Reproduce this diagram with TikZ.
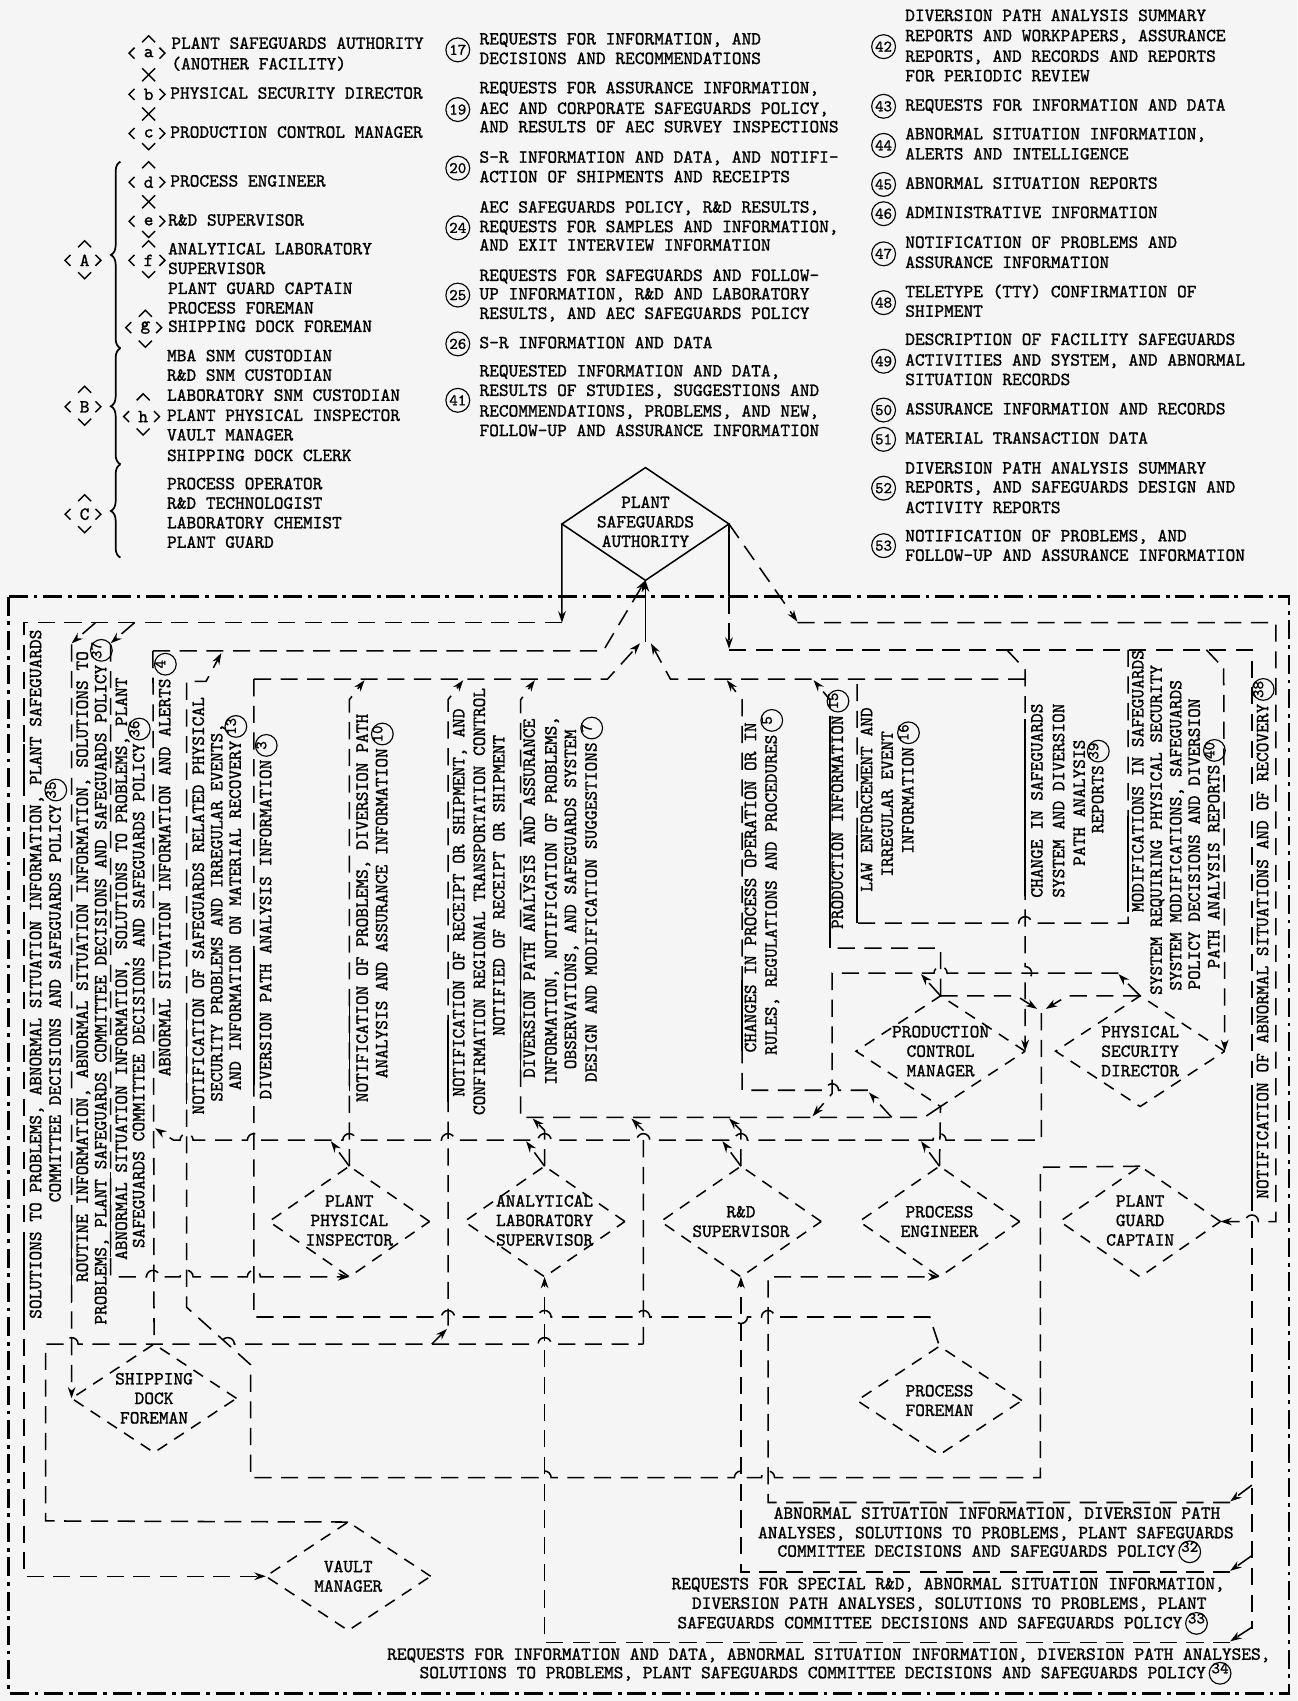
\documentclass[tikz,border=0pt]{standalone}
\usepackage{fontspec}
\newfontfamily\tw[FakeBold=1.2]{lmmono10-regular.otf}
\usetikzlibrary{arrows.meta,shapes.geometric,decorations.pathreplacing}

\newcommand\cn[1]{\hspace{1.5pt}\tikz[baseline={(0pt,-2.6pt)},x=1cm,y=1cm]{\draw[line width=0.6pt,solid] (0,0) circle[radius=0.2cm]; \node[inner sep=0pt,font=\tw\fontsize{8.5}{8.5}\selectfont] (cnn) at (0,0) {#1};}}
\newcommand\JmpR[2]{-- (#1-6,#2) arc[start angle=180,end angle=0,radius=0.12cm]}
\newcommand\JmpL[2]{-- (#1+6,#2) arc[start angle=0,end angle=180,radius=0.12cm]}
\newcommand\JmpDip[2]{-- (#1-6,#2) arc[start angle=180,end angle=360,radius=0.12cm]}
\newcommand\JmpD[2]{-- (#1,#2-6) arc[start angle=90,end angle=-90,radius=0.12cm]}
\newcommand\Lhat[2]{\draw[lg] (#1-6,#2+3) -- (#1,#2-3) -- (#1+6,#2+3);}
\newcommand\Lvee[2]{\draw[lg] (#1-6,#2-3) -- (#1,#2+3) -- (#1+6,#2-3);}
\newcommand\Lx[2]{\draw[lg] (#1-6,#2-6) -- (#1+6,#2+6) (#1-6,#2+6) -- (#1+6,#2-6);}
\newcommand\Lkey[4]{\draw[lg] (#1-13,#2-5) -- (#1-18,#2) -- (#1-13,#2+5); \draw[lg] (#1+10,#2-5) -- (#1+15,#2) -- (#1+10,#2+5); \node[txt] (#4) at (#1,#2) {#3};}

\begin{document}
\begin{tikzpicture}[x=0.02cm,y=-0.02cm,
  txt/.style={font=\tw\fontsize{9.7}{10.24}\selectfont,inner sep=0pt,outer sep=0pt},
  vt/.style={txt,rotate=90,anchor=base},
  ht/.style={txt,anchor=base west},
  hc/.style={txt,anchor=base},
  dt/.style={txt,align=center},
  ln/.style={line width=0.8pt,dash pattern=on 9pt off 5pt},
  sl/.style={line width=0.8pt},
  lg/.style={line width=0.75pt},
  arr/.style={-{Stealth[length=6pt,width=4pt]}},
  dia/.style={diamond,draw,line width=0.8pt,dash pattern=on 6pt off 4.5pt,inner sep=0pt,outer sep=0pt},
  diaS/.style={dia,minimum width=2.96cm,minimum height=2.04cm},
  diaU/.style={dia,minimum width=3.12cm,minimum height=2.04cm},
  diaB/.style={dia,minimum width=3.04cm,minimum height=2.0cm},
  circ/.style={circle,draw,line width=0.6pt,minimum size=0.44cm,inner sep=0pt,font=\tw\fontsize{8.5}{8.5}\selectfont},
  bd/.style={line width=1.3pt,dash pattern=on 10pt off 3pt on 2pt off 3pt},
]
\useasboundingbox (0,0) rectangle (1196,1568);
\fill[black!4] (0,0) rectangle (1196,1568);

% ---------------- legend left ----------------
\node[ht] (l1) at (158,45) {PLANT SAFEGUARDS AUTHORITY};
\node[ht] (l2) at (158,64) {(ANOTHER FACILITY)};
\node[ht] (l3) at (157,91) {PHYSICAL SECURITY DIRECTOR};
\node[ht] (l4) at (157,127) {PRODUCTION CONTROL MANAGER};
\node[ht] (l5) at (157,172) {PROCESS ENGINEER};
\node[ht] (l6) at (155,208) {R\&D SUPERVISOR};
\node[ht] (l7) at (155,234.5) {ANALYTICAL LABORATORY};
\node[ht] (l8) at (155,252.6) {SUPERVISOR};
\node[ht] (l9) at (155,271) {PLANT GUARD CAPTAIN};
\node[ht] (l10) at (155,289) {PROCESS FOREMAN};
\node[ht] (l11) at (155,306) {SHIPPING DOCK FOREMAN};
\node[ht] (l12) at (154,333) {MBA SNM CUSTODIAN};
\node[ht] (l13) at (154,351) {R\&D SNM CUSTODIAN};
\node[ht] (l14) at (154,369.5) {LABORATORY SNM CUSTODIAN};
\node[ht] (l15) at (154,388) {PLANT PHYSICAL INSPECTOR};
\node[ht] (l16) at (154,406) {VAULT MANAGER};
\node[ht] (l17) at (154,425) {SHIPPING DOCK CLERK};
\node[ht] (l18) at (154,451) {PROCESS OPERATOR};
\node[ht] (l19) at (154,469) {R\&D TECHNOLOGIST};
\node[ht] (l20) at (154,487) {LABORATORY CHEMIST};
\node[ht] (l21) at (154,505) {PLANT GUARD};

\Lhat{137}{36}
\Lkey{137}{49}{a}{ka}
\Lx{137}{69}
\Lkey{137}{87}{b}{kb}
\Lx{137}{105}
\Lkey{137}{123}{c}{kc}
\Lvee{137}{135}
\Lhat{137}{152}
\Lkey{137}{168}{d}{kd}
\Lx{137}{186}
\Lkey{137}{204}{e}{ke}
\Lvee{137}{216}
\Lhat{137}{225}
\Lkey{137}{240}{f}{kf}
\Lvee{137}{253}
\Lhat{134}{289}
\Lkey{134}{302}{g}{kg}
\Lvee{134}{317}
\Lhat{132}{366}
\Lkey{132}{384}{h}{kh}
\Lvee{132}{398}
\Lhat{78}{225}
\Lkey{78}{240}{A}{kA}
\Lvee{78}{254}
\Lhat{78}{359}
\Lkey{78}{375}{B}{kB}
\Lvee{78}{389}
\Lhat{78}{459}
\Lkey{78}{474}{C}{kC}
\Lvee{78}{488}
\draw[lg,line width=0.9pt,decorate,decoration={brace,amplitude=5pt}] (111,321) -- (111,149);
\draw[lg,line width=0.9pt,decorate,decoration={brace,amplitude=5pt}] (111,428) -- (111,321);
\draw[lg,line width=0.9pt,decorate,decoration={brace,amplitude=5pt}] (111,514) -- (111,428);

% ---------------- legend middle ----------------
\node[circ] (c17) at (422,46) {17};
\node[ht] (m1) at (442,41) {REQUESTS FOR INFORMATION, AND};
\node[ht] (m2) at (442,59) {DECISIONS AND RECOMMENDATIONS};
\node[circ] (c19) at (422,101) {19};
\node[ht] (m3) at (442,86) {REQUESTS FOR ASSURANCE INFORMATION,};
\node[ht] (m4) at (442,105) {AEC AND CORPORATE SAFEGUARDS POLICY,};
\node[ht] (m5) at (442,122) {AND RESULTS OF AEC SURVEY INSPECTIONS};
\node[circ] (c20) at (422,155) {20};
\node[ht] (m6) at (442,150) {S-R INFORMATION AND DATA, AND NOTIFI-};
\node[ht] (m7) at (442,168) {ACTION OF SHIPMENTS AND RECEIPTS};
\node[circ] (c24) at (422,210) {24};
\node[ht] (m8) at (442,196) {AEC SAFEGUARDS POLICY, R\&D RESULTS,};
\node[ht] (m9) at (442,214) {REQUESTS FOR SAMPLES AND INFORMATION,};
\node[ht] (m10) at (442,231) {AND EXIT INTERVIEW INFORMATION};
\node[circ] (c25) at (422,272) {25};
\node[ht] (m11) at (442,259) {REQUESTS FOR SAFEGUARDS AND FOLLOW-};
\node[ht] (m12) at (442,276) {UP INFORMATION, R\&D AND LABORATORY};
\node[ht] (m13) at (442,294) {RESULTS, AND AEC SAFEGUARDS POLICY};
\node[circ] (c26) at (422,317) {26};
\node[ht] (m14) at (442,321) {S-R INFORMATION AND DATA};
\node[circ] (c41) at (422,369) {41};
\node[ht] (m15) at (442,347) {REQUESTED INFORMATION AND DATA,};
\node[ht] (m16) at (442,365) {RESULTS OF STUDIES, SUGGESTIONS AND};
\node[ht] (m17) at (442,384) {RECOMMENDATIONS, PROBLEMS, AND NEW,};
\node[ht] (m18) at (442,402) {FOLLOW-UP AND ASSURANCE INFORMATION};

% ---------------- legend right ----------------
\node[circ] (c42) at (814.5,43) {42};
\node[ht] (r1) at (834.5,19.4) {DIVERSION PATH ANALYSIS SUMMARY};
\node[ht] (r2) at (834.5,38) {REPORTS AND WORKPAPERS, ASSURANCE};
\node[ht] (r3) at (834.5,57) {REPORTS, AND RECORDS AND REPORTS};
\node[ht] (r4) at (834.5,75) {FOR PERIODIC REVIEW};
\node[circ] (c43) at (814.5,98) {43};
\node[ht] (r5) at (834.5,102) {REQUESTS FOR INFORMATION AND DATA};
\node[circ] (c44) at (814.5,134) {44};
\node[ht] (r6) at (834.5,128.5) {ABNORMAL SITUATION INFORMATION,};
\node[ht] (r7) at (834.5,147) {ALERTS AND INTELLIGENCE};
\node[circ] (c45) at (814.5,170) {45};
\node[ht] (r8) at (834.5,174) {ABNORMAL SITUATION REPORTS};
\node[circ] (c46) at (814.5,197) {46};
\node[ht] (r9) at (834.5,201) {ADMINISTRATIVE INFORMATION};
\node[circ] (c47) at (814.5,234) {47};
\node[ht] (r10) at (834.5,228.5) {NOTIFICATION OF PROBLEMS AND};
\node[ht] (r11) at (834.5,247) {ASSURANCE INFORMATION};
\node[circ] (c48) at (814.5,279) {48};
\node[ht] (r12) at (834.5,274) {TELETYPE (TTY) CONFIRMATION OF};
\node[ht] (r13) at (834.5,292) {SHIPMENT};
\node[circ] (c49) at (814.5,333) {49};
\node[ht] (r14) at (834.5,318) {DESCRIPTION OF FACILITY SAFEGUARDS};
\node[ht] (r15) at (834.5,337) {ACTIVITIES AND SYSTEM, AND ABNORMAL};
\node[ht] (r16) at (834.5,355) {SITUATION RECORDS};
\node[circ] (c50) at (814.5,378) {50};
\node[ht] (r17) at (834.5,382) {ASSURANCE INFORMATION AND RECORDS};
\node[circ] (c51) at (814.5,405) {51};
\node[ht] (r18) at (834.5,409) {MATERIAL TRANSACTION DATA};
\node[circ] (c52) at (814.5,450) {52};
\node[ht] (r19) at (834.5,436.5) {DIVERSION PATH ANALYSIS SUMMARY};
\node[ht] (r20) at (834.5,454) {REPORTS, AND SAFEGUARDS DESIGN AND};
\node[ht] (r21) at (834.5,473) {ACTIVITY REPORTS};
\node[circ] (c53) at (814.5,503) {53};
\node[ht] (r22) at (834.5,499) {NOTIFICATION OF PROBLEMS, AND};
\node[ht] (r23) at (834.5,517) {FOLLOW-UP AND ASSURANCE INFORMATION};

% ---------------- diamonds ----------------
\node[dia,solid,minimum width=3.08cm,minimum height=2.08cm] (PSA) at (595,483) {};
\node[dt] (PSAt) at (595,481) {PLANT\\SAFEGUARDS\\AUTHORITY};
\node[diaU] (PCM) at (867,969) {};
\node[dt] (PCMt) at (867,969) {PRODUCTION\\CONTROL\\MANAGER};
\node[diaU] (PSD) at (1051,969) {};
\node[dt] (PSDt) at (1051,969) {PHYSICAL\\SECURITY\\DIRECTOR};
\node[diaS] (PPI) at (322,1126) {};
\node[dt] (PPIt) at (322,1125) {PLANT\\PHYSICAL\\INSPECTOR};
\node[diaS] (ALS) at (502,1126) {};
\node[dt] (ALSt) at (502,1125) {ANALYTICAL\\LABORATORY\\SUPERVISOR};
\node[diaS] (RD) at (683,1126) {};
\node[dt] (RDt) at (683,1126) {R\&D\\SUPERVISOR};
\node[diaS] (PE) at (866,1126) {};
\node[dt] (PEt) at (866,1126) {PROCESS\\ENGINEER};
\node[diaS] (PGC) at (1051,1126) {};
\node[dt] (PGCt) at (1051,1125) {PLANT\\GUARD\\CAPTAIN};
\node[diaB] (SDF) at (142,1289) {};
\node[dt] (SDFt) at (142,1289) {SHIPPING\\DOCK\\FOREMAN};
\node[diaB] (PF) at (866,1291) {};
\node[dt] (PFt) at (866,1291) {PROCESS\\FOREMAN};
\node[diaB] (VM) at (321,1453) {};
\node[dt] (VMt) at (321,1453) {VAULT\\MANAGER};

% ---------------- border ----------------
\draw[bd] (8,550) rectangle (1188,1561);

% ---------------- connectors ----------------
\draw[sl,arr] (PSA.west) -- (518,574);
\draw[ln,arr] (518,574) -- (22,574) -- (22,1453) -- (VM.west);
\draw[sl] (PSA.east) -- (672,550);
\draw[ln,arr] (672,550) -- (672,598);
\draw[ln,arr] (PSA.east) -- (735,573);
\draw[ln,arr] (735,574) -- (1176,574) -- (1176,1126) \JmpL{1154}{1126} -- (PGC.east);
\draw[ln] (672,599) -- (1154,599) -- (1154,1502);
\draw[ln,arr] (1154,1369) -- (1134,1384);
\draw[ln,arr] (1134,1385) -- (708,1385) -- (708,1177) -- (PE.south);
\draw[ln,arr] (1154,1434) -- (1134,1448);
\draw[ln,arr] (1134,1449) -- (683,1449) -- (RD.south);
\draw[ln,arr] (1154,1500) -- (1134,1513);
\draw[ln,arr] (1134,1514) -- (502,1514) -- (ALS.south);

\draw[ln] (928,599) -- (945,617);
\draw[ln,arr] (945,617) \JmpD{945}{897} -- (PCM.east);
\draw[ln] (1112,599) -- (1128,616);
\draw[ln,arr] (1128,616) -- (PSD.east);
\draw[ln] (1040,599) -- (1040,851) \JmpL{945}{851} -- (790,851) -- (790,626);
\draw[ln,arr] (945,626) -- (618,626) -- (600,593);
\draw[sl,arr] (595,592) -- (PSA.south);
\draw[ln,arr] (234,626) -- (560,626) -- (590,593);
\draw[ln,arr] (141,600) -- (556,600) -- (PSA.south);

\draw[ln,arr] (PCM.north) -- (867,874) -- (765,874) -- (765,645) -- (750,627);
\draw[ln,arr] (PCM.north) -- (849,898);
\draw[ln,arr] (PSD.north) -- (1031,898);
\draw[ln,arr] (1031,897) \JmpL{867}{897} -- (767,897) -- (767,1008) -- (749,1029);
\draw[ln,arr] (PCM.north) -- (937,918) -- (956,930);
\draw[ln,arr] (PSD.north) -- (984,918) -- (964,930);
\draw[ln,arr] (960,934) -- (960,1051) \JmpL{866}{1051} \JmpL{683}{1051} \JmpL{593}{1051} \JmpL{502}{1051} \JmpL{413}{1051} \JmpL{322}{1051} \JmpL{234}{1051} \JmpL{172}{1051} -- (160,1051) -- (143,1040);

\draw[ln,arr] (822,1030) -- (801,1007);
\draw[ln,arr] (800,1005) \JmpL{767}{1005} -- (684,1005) -- (684,645) -- (670,627);
\draw[ln,arr] (PCM.south) -- (852,1030) -- (480,1030) -- (480,645) -- (493,627);
\draw[ln] (PE.north) -- (PCM.south);
\draw[ln,arr] (PE.north) -- (849,1052);
\draw[ln,arr] (RD.north) -- (683,1042) -- (672,1031);
\draw[ln,arr] (RD.north) -- (666,1052);
\draw[ln,arr] (593,1239) -- (593,1042) -- (582,1031);
\draw[ln,arr] (ALS.north) -- (502,1042) -- (491,1031);
\draw[ln,arr] (ALS.north) -- (485,1052);
\draw[ln,arr] (PPI.north) -- (322,645) -- (336,627);
\draw[ln,arr] (PPI.north) -- (305,1052);
\draw[ln,arr] (398,1239) -- (412,1225);
\draw[ln,arr] (413,1222) -- (413,645) -- (427,627);
\draw[ln] (234,626) -- (234,1214) \JmpR{413}{1214} \JmpR{502}{1214} \JmpR{593}{1214} \JmpDip{683}{1214} \JmpR{708}{1214} -- (857,1214) -- (PF.north);
\draw[ln,arr] (124,574) -- (102,593);
\draw[ln,arr] (102,594) -- (102,1177) \JmpR{141}{1177} \JmpR{172}{1177} \JmpR{234}{1177} -- (PPI.south);
\draw[ln,arr] (88,574) -- (66,593);
\draw[ln,arr] (66,594) -- (SDF.west);
\draw[ln] (141,600) -- (SDF.north);
\draw[ln,arr] (PGC.north) -- (959,1076) -- (959,1362) \JmpL{708}{1362} \JmpL{683}{1362} \JmpL{502}{1362} -- (231,1362) -- (231,1258) -- (172,1205) -- (172,628) -- (190,628) -- (204,602);
\draw[ln] (VM.north) -- (42,1402) -- (42,1239) \JmpR{66}{1239} -- (SDF.north) \JmpR{210}{1239} \JmpR{502}{1239} -- (593,1239);

% solid stretches of the lines beside the labels
\draw[sl] (22,1226) -- (22,1148) (22,717) -- (22,686);
\draw[sl] (66,1201) -- (66,1120);
\draw[sl] (102,1159) -- (102,1080);
\draw[sl] (172,1018) -- (172,940);
\draw[sl] (234,1000) -- (234,876);
\draw[sl] (322,1006) -- (322,927);
\draw[sl] (413,1016) -- (413,940);
\draw[sl] (480,993) -- (480,872);
\draw[sl] (684,969) -- (684,903);
\draw[sl] (765,874) -- (765,660);
\draw[sl] (790,851) -- (790,770);
\draw[sl] (945,826) -- (945,663);
\draw[sl] (1040,841) -- (1040,752);
\draw[sl] (1154,1105) -- (1154,1000);

% ---------------- vertical texts ----------------
\node[vt] (t35a) at (38,898) {SOLUTIONS TO PROBLEMS, ABNORMAL SITUATION INFORMATION, PLANT SAFEGUARDS};
\node[vt] (t35b) at (56,913) {COMMITTEE DECISIONS AND SAFEGUARDS POLICY\cn{35}};
\node[vt] (t37a) at (81,891) {ROUTINE INFORMATION, ABNORMAL SITUATION INFORMATION, SOLUTIONS TO};
\node[vt] (t37b) at (98,905) {PROBLEMS, PLANT SAFEGUARDS COMMITTEE DECISIONS AND SAFEGUARDS POLICY\cn{37}};
\node[vt] (t36a) at (117,893) {ABNORMAL SITUATION INFORMATION, SOLUTIONS TO PROBLEMS, PLANT};
\node[vt] (t36b) at (133,906) {SAFEGUARDS COMMITTEE DECISIONS AND SAFEGUARDS POLICY\cn{36}};
\node[vt] (t4) at (157,797) {ABNORMAL SITUATION INFORMATION AND ALERTS\cn{4}};
\node[vt] (t13a) at (188,835) {NOTIFICATION OF SAFEGUARDS RELATED PHYSICAL};
\node[vt] (t13b) at (205,841) {SECURITY PROBLEMS AND IRREGULAR EVENTS,};
\node[vt] (t13c) at (222,832) {AND INFORMATION ON MATERIAL RECOVERY\cn{13}};
\node[vt] (t3) at (250,845) {DIVERSION PATH ANALYSIS INFORMATION\cn{3}};
\node[vt] (t10a) at (339,837) {NOTIFICATION OF PROBLEMS, DIVERSION PATH};
\node[vt] (t10b) at (357,830) {ANALYSIS AND ASSURANCE INFORMATION\cn{10}};
\node[vt] (tra) at (428,832) {NOTIFICATION OF RECEIPT OR SHIPMENT, AND};
\node[vt] (trb) at (447,831) {CONFIRMATION REGIONAL TRANSPORTATION CONTROL};
\node[vt] (trc) at (465,816) {NOTIFIED OF RECEIPT OR SHIPMENT};
\node[vt] (t7a) at (493,828) {DIVERSION PATH ANALYSIS AND ASSURANCE};
\node[vt] (t7b) at (513,830) {INFORMATION, NOTIFICATION OF PROBLEMS,};
\node[vt] (t7c) at (531,829) {OBSERVATIONS, AND SAFEGUARDS SYSTEM};
\node[vt] (t7d) at (550,829) {DESIGN AND MODIFICATION SUGGESTIONS\cn{7}};
\node[vt] (t5a) at (697,818) {CHANGES IN PROCESS OPERATION OR IN};
\node[vt] (t5b) at (716,813) {RULES, REGULATIONS AND PROCEDURES\cn{5}};
\node[vt] (t15) at (777,746) {PRODUCTION INFORMATION\cn{15}};
\node[vt] (t16a) at (804,737) {LAW ENFORCEMENT AND};
\node[vt] (t16b) at (823,741) {IRREGULAR EVENT};
\node[vt] (t16c) at (842,726) {INFORMATION\cn{16}};
\node[vt] (t39a) at (961,738) {CHANGE IN SAFEGUARDS};
\node[vt] (t39b) at (981,738) {SYSTEM AND DIVERSION};
\node[vt] (t39c) at (1000,740) {PATH ANALYSIS};
\node[vt] (t39d) at (1017,725) {REPORTS\cn{39}};
\node[vt] (t40a) at (1054,720) {MODIFICATIONS IN SAFEGUARDS};
\node[vt] (t40b) at (1071,765) {SYSTEM REQUIRING PHYSICAL SECURITY};
\node[vt] (t40c) at (1089,770) {SYSTEM MODIFICATIONS, SAFEGUARDS};
\node[vt] (t40d) at (1106,778) {POLICY DECISIONS AND DIVERSION};
\node[vt] (t40e) at (1124,787) {PATH ANALYSIS REPORTS\cn{40}};
\node[vt] (t38) at (1169,865) {NOTIFICATION OF ABNORMAL SITUATIONS AND OF RECOVERY\cn{38}};

% ---------------- bottom texts ----------------
\node[hc] (t32a) at (919,1400) {ABNORMAL SITUATION INFORMATION, DIVERSION PATH};
\node[hc] (t32b) at (918,1418) {ANALYSES, SOLUTIONS TO PROBLEMS, PLANT SAFEGUARDS};
\node[hc] (t32c) at (912,1435) {COMMITTEE DECISIONS AND SAFEGUARDS POLICY\cn{32}};
\node[hc] (t33a) at (874,1465) {REQUESTS FOR SPECIAL R\&D, ABNORMAL SITUATION INFORMATION,};
\node[hc] (t33b) at (875,1483) {DIVERSION PATH ANALYSES, SOLUTIONS TO PROBLEMS, PLANT};
\node[hc] (t33c) at (869,1501) {SAFEGUARDS COMMITTEE DECISIONS AND SAFEGUARDS POLICY\cn{33}};
\node[hc] (t34a) at (764,1530) {REQUESTS FOR INFORMATION AND DATA, ABNORMAL SITUATION INFORMATION, DIVERSION PATH ANALYSES,};
\node[hc] (t34b) at (761,1547) {SOLUTIONS TO PROBLEMS, PLANT SAFEGUARDS COMMITTEE DECISIONS AND SAFEGUARDS POLICY\cn{34}};
\end{tikzpicture}
\end{document}
